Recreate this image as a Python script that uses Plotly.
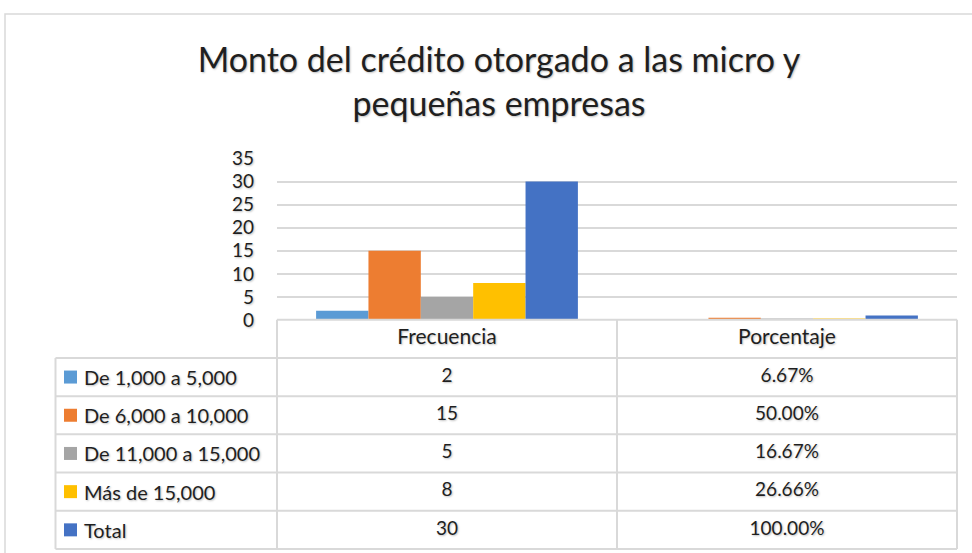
import plotly.graph_objects as go

# ---------------- data ----------------
categories = ["Frecuencia", "Porcentaje"]
series_names = ["De 1,000 a 5,000", "De 6,000 a 10,000", "De 11,000 a 15,000", "Más de 15,000", "Total"]
frecuencia = [2, 15, 5, 8, 30]
porcentaje = [0.0667, 0.5000, 0.1667, 0.2666, 1.0000]
porcentaje_labels = ["6.67%", "50.00%", "16.67%", "26.66%", "100.00%"]
colors = ["#5B9BD5", "#ED7D31", "#A5A5A5", "#FFC000", "#4472C4"]
y_ticks = [0, 5, 10, 15, 20, 25, 30, 35]
title_lines = ["Monto del crédito otorgado a las micro y", "pequeñas empresas"]

# ---------------- layout helpers ----------------
W, H = 972, 553
FONT = "Lato"
TXT = "#1f1f1f"
GRID = "#D9D9D9"
SHADOW = "1px 1px 2px rgba(0,0,0,0.25)"


def px(x):
    return x / W


def py(y):
    return 1 - y / H


fig = go.Figure()

for name, f, p, c in zip(series_names, frecuencia, porcentaje, colors):
    fig.add_trace(go.Bar(
        x=categories, y=[f, p], name=name, marker=dict(color=c, line=dict(width=0)),
        showlegend=False, xaxis="x", yaxis="y",
    ))

# ---------------- data table (on its own axes) ----------------
COLW = 340.0            # pixels per category column
ROWH = 38.2             # pixels per table row
X0C = 447.0             # pixel centre of first category
Y0R = 338.85            # pixel centre of header row
xl = (55.5 - X0C) / COLW  # left edge of label column (data units)

n_rows = len(series_names)
rows = list(range(1, n_rows + 1))

# header row
fig.add_trace(go.Scatter(
    x=[0, 1], y=[0, 0], text=categories,
    mode="text", textposition="middle center",
    textfont=dict(family=FONT, size=21, color=TXT, shadow=SHADOW),
    showlegend=False, hoverinfo="skip", xaxis="x2", yaxis="y2",
))
# values
fig.add_trace(go.Scatter(
    x=[0] * n_rows + [1] * n_rows,
    y=rows + rows,
    text=[str(v) for v in frecuencia] + porcentaje_labels,
    mode="text", textposition="middle center",
    textfont=dict(family=FONT, size=19, color=TXT, shadow=SHADOW),
    showlegend=False, hoverinfo="skip", xaxis="x2", yaxis="y2",
))

# legend keys
fig.add_trace(go.Scatter(
    x=[xl + (70.5 - 55.5) / COLW] * n_rows, y=rows,
    mode="markers", marker=dict(symbol="square", size=13, color=colors),
    showlegend=False, hoverinfo="skip", xaxis="x2", yaxis="y2",
))

annotations = []
for r, name in zip(rows, series_names):
    annotations.append(dict(
        x=xl + (82 - 55.5) / COLW, y=r, xref="x2", yref="y2",
        text=name, showarrow=False, xanchor="left", yanchor="middle",
        font=dict(family=FONT, size=20, color=TXT, shadow=SHADOW),
    ))

shapes = []
line = dict(color=GRID, width=2)
# horizontal table lines
shapes.append(dict(type="line", xref="x2", yref="y2", x0=-0.5, x1=1.5, y0=-0.5, y1=-0.5, line=line))
for k in range(1, n_rows + 2):
    shapes.append(dict(type="line", xref="x2", yref="y2", x0=xl, x1=1.5,
                       y0=k - 0.5, y1=k - 0.5, line=line))
# vertical table lines
shapes.append(dict(type="line", xref="x2", yref="y2", x0=xl, x1=xl, y0=0.5, y1=n_rows + 0.5, line=line))
for xv in [-0.5, 0.5, 1.5]:
    shapes.append(dict(type="line", xref="x2", yref="y2", x0=xv, x1=xv, y0=-0.5, y1=n_rows + 0.5, line=line))
# outer chart border
shapes.append(dict(type="rect", xref="paper", yref="paper", x0=px(5), x1=px(990),
                   y0=py(14), y1=py(570), line=dict(color=GRID, width=1.5)))

fig.update_layout(
    width=W, height=H, autosize=False,
    margin=dict(l=0, r=0, t=0, b=0, pad=0, autoexpand=False),
    paper_bgcolor="white", plot_bgcolor="rgba(0,0,0,0)",
    barmode="group", bargap=0.23, bargroupgap=0,
    title=dict(
        text="<br>".join(title_lines),
        x=px(499), xanchor="center", xref="paper",
        y=py(71.5), yanchor="middle", yref="container",
        font=dict(family=FONT, size=34, color=TXT, shadow=SHADOW),
    ),
    xaxis=dict(
        domain=[px(277), px(957)], range=[-0.5, 1.5],
        showticklabels=False, showgrid=False, zeroline=False, showline=False,
        anchor="y", fixedrange=True,
    ),
    yaxis=dict(
        domain=[py(320), py(158.5)], range=[0, 35], tickvals=y_ticks,
        showgrid=True, gridcolor=GRID, gridwidth=2, zeroline=False, showline=False,
        tickfont=dict(family=FONT, size=19, color=TXT, shadow=SHADOW),
        ticks="", ticklabelstandoff=22, anchor="x", fixedrange=True,
    ),
    xaxis2=dict(
        domain=[px(45), px(967)],
        range=[(45 - X0C) / COLW, (967 - X0C) / COLW],
        visible=False, anchor="y2", fixedrange=True,
    ),
    yaxis2=dict(
        domain=[0, py(312)],
        range=[(553 - Y0R) / ROWH, (312 - Y0R) / ROWH],
        visible=False, anchor="x2", fixedrange=True,
    ),
    shapes=shapes,
    annotations=annotations,
    showlegend=False,
)

post = (
    "document.documentElement.style.margin='0';"
    "document.body.style.margin='0';"
    "document.body.style.overflow='hidden';"
    "var gd=document.getElementById('{plot_id}');"
    "gd.style.position='fixed';gd.style.top='0';gd.style.left='0';"
)

fig.write_html("out.html", post_script=post,
               config={"displayModeBar": False, "responsive": False})
